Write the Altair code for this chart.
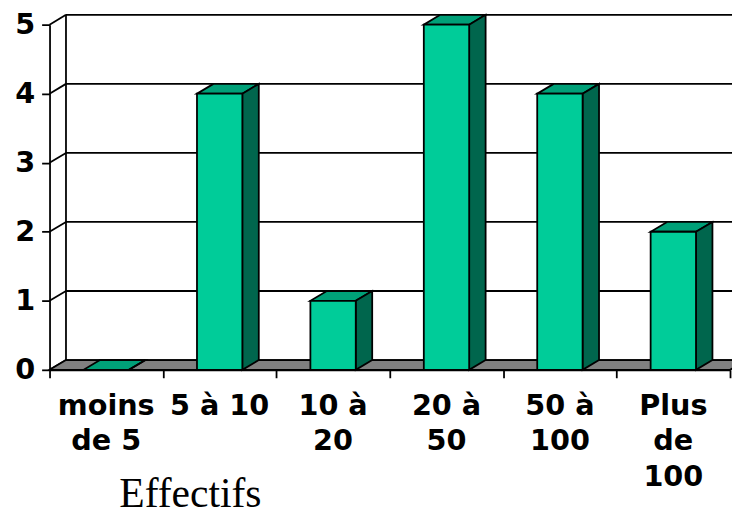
import altair as alt
import pandas as pd

# ---- data ----
categories = ["moins de 5", "5 à 10", "10 à 20", "20 à 50", "50 à 100", "Plus de 100"]
label_lines = ["moins\nde 5", "5 à 10", "10 à\n20", "20 à\n50", "50 à\n100", "Plus\nde\n100"]
values = [0, 4, 1, 5, 4, 2]
y_ticks = [0, 1, 2, 3, 4, 5]
x_title = "Effectifs"

# ---- 3D style constants (in scale units) ----
N = len(categories)
YMAX = 5
DX = 0.145          # depth along x, category units
DY = 0.142          # depth along y, value units
BAR_L, BAR_R = 0.30, 0.70

FRONT = "#00CC99"
TOP = "#00A078"
SIDE = "#00664D"
FLOOR = "#808080"
LW = 1.8

front = pd.DataFrame({
    "cat": categories,
    "x": [i + BAR_L for i in range(N)],
    "x2": [i + BAR_R for i in range(N)],
    "y": [0] * N,
    "y2": values,
})

side_rows, top_rows = [], []
for i, (c, v) in enumerate(zip(categories, values)):
    side_rows.append({"cat": c, "x": i + BAR_R, "lo": 0, "hi": v})
    side_rows.append({"cat": c, "x": i + BAR_R + DX, "lo": DY, "hi": v + DY})
    top_rows.append({"cat": c, "y": v, "xa": i + BAR_L, "xb": i + BAR_R})
    top_rows.append({"cat": c, "y": v + DY, "xa": i + BAR_L + DX, "xb": i + BAR_R + DX})
side = pd.DataFrame(side_rows)
top = pd.DataFrame(top_rows)

floor = pd.DataFrame({"y": [0, DY], "xa": [0, DX], "xb": [N, N + DX]})

rules = []
for k in y_ticks:
    rules.append({"x": DX, "x2": N + DX, "y": k + DY, "y2": k + DY})   # back wall grid
    rules.append({"x": 0, "x2": DX, "y": k, "y2": k + DY})             # side wall grid
rules.append({"x": DX, "x2": DX, "y": DY, "y2": YMAX + DY})            # back wall edge
rules = pd.DataFrame(rules)

labels = pd.DataFrame({"x": [i + 0.5 for i in range(N)], "y": [0] * N, "text": label_lines})

xs = alt.Scale(domain=[0, N], nice=False, zero=False)
ys = alt.Scale(domain=[0, YMAX], nice=False, zero=False)

x_axis = alt.Axis(
    values=list(range(N + 1)), labels=False, grid=False,
    domainColor="black", domainWidth=LW, tickColor="black", tickWidth=LW, tickSize=8,
    title=x_title, titleFont="Liberation Serif", titleFontSize=42, titleFontWeight="normal",
    titleColor="black", titleX=70, titleY=138, titleAlign="left", titleBaseline="alphabetic",
    titleAnchor="start",
)
y_axis = alt.Axis(
    values=y_ticks, grid=False, title=None,
    domainColor="black", domainWidth=LW, tickColor="black", tickWidth=LW, tickSize=8,
    labelFont="DejaVu Sans", labelFontWeight="bold", labelFontSize=29, labelColor="black",
    labelPadding=7,
)


def X(field):
    return alt.X(field, scale=xs, axis=x_axis)


def Y(field):
    return alt.Y(field, scale=ys, axis=y_axis, stack=None)


grid_layer = alt.Chart(rules).mark_rule(color="black", strokeWidth=LW).encode(
    x=X("x:Q"), x2="x2:Q", y=Y("y:Q"), y2="y2:Q",
)

floor_layer = alt.Chart(floor).mark_area(
    orient="horizontal", color=FLOOR, stroke="black", strokeWidth=LW, opacity=1
).encode(
    y=Y("y:Q"), x=X("xa:Q"), x2="xb:Q",
)

top_layer = alt.Chart(top).mark_area(
    orient="horizontal", color=TOP, stroke="black", strokeWidth=LW, opacity=1
).encode(
    y=Y("y:Q"), x=X("xa:Q"), x2="xb:Q", detail="cat:N",
)

side_layer = alt.Chart(side).mark_area(
    orient="vertical", color=SIDE, stroke="black", strokeWidth=LW, opacity=1
).encode(
    x=X("x:Q"), y=Y("hi:Q"), y2="lo:Q", detail="cat:N",
)

front_layer = alt.Chart(front).mark_rect(
    color=FRONT, stroke="black", strokeWidth=LW
).encode(
    x=X("x:Q"), x2="x2:Q", y=Y("y:Q"), y2="y2:Q",
)

label_layer = alt.Chart(labels).mark_text(
    font="DejaVu Sans", fontWeight="bold", fontSize=29, color="black",
    align="center", baseline="alphabetic", lineBreak="\n", lineHeight=35.5, dy=46,
).encode(
    x=X("x:Q"), y=Y("y:Q"), text="text:N",
)

chart = alt.layer(
    grid_layer, floor_layer, top_layer, side_layer, front_layer, label_layer
).properties(
    width=688, height=349,
    autosize=alt.AutoSizeParams(type="none"),
    padding={"left": 42, "top": 14, "right": 2, "bottom": 149},
    background="white",
).configure_view(stroke=None)

chart.save("out.html", embed_options={"renderer": "svg", "actions": False})
